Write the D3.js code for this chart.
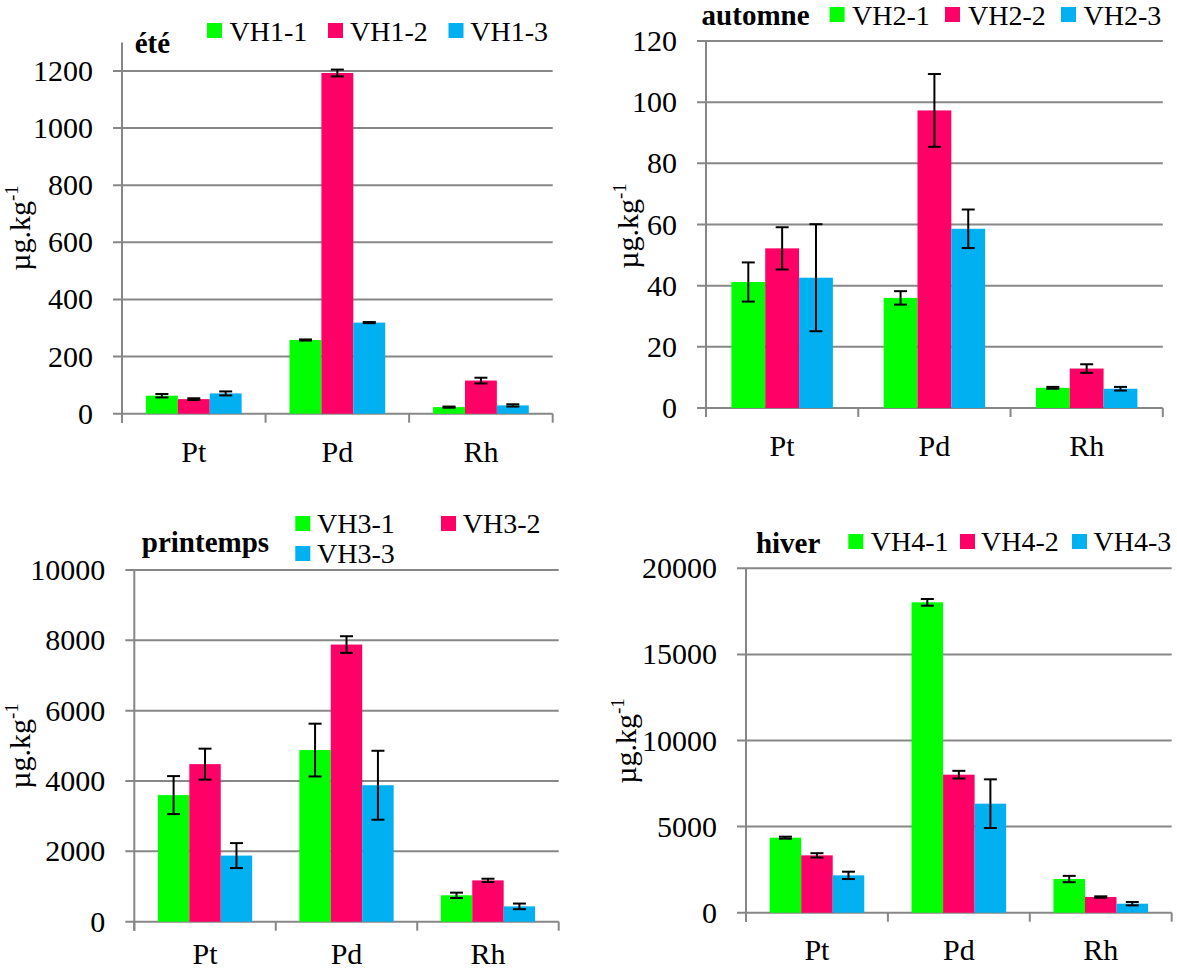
<!DOCTYPE html>
<html>
<head>
<meta charset="utf-8">
<script src="https://cdn.jsdelivr.net/npm/d3@7"></script>
<style>
  html, body { margin: 0; padding: 0; background: #fff; }
</style>
</head>
<body>
<svg id="chart" width="1177" height="972"></svg>
<script>
// ---------- data ----------
const categories = ["Pt", "Pd", "Rh"];
const seriesColors = ["#00FF00", "#FF0066", "#00B0F0"];
const yLabel = "µg.kg";

// été
const eteTitle = "été";
const eteSeries = ["VH1-1", "VH1-2", "VH1-3"];
const eteValues = [[63, 258, 23], [51, 1193, 116], [71, 319, 29]];
const eteErrors = [[6, 2, 2], [3, 12, 10], [7, 2, 4]];
const eteTicks = [0, 200, 400, 600, 800, 1000, 1200];
const eteMax = 1300;

// automne
const automneTitle = "automne";
const automneSeries = ["VH2-1", "VH2-2", "VH2-3"];
const automneValues = [[41.2, 36, 6.6], [52.2, 97.3, 12.9], [42.6, 58.6, 6.3]];
const automneErrors = [[6.4, 2.2, 0.3], [6.9, 11.9, 1.4], [17.5, 6.3, 0.6]];
const automneTicks = [0, 20, 40, 60, 80, 100, 120];
const automneMax = 120;

// printemps
const printempsTitle = "printemps";
const printempsSeries = ["VH3-1", "VH3-2", "VH3-3"];
const printempsValues = [[3600, 4880, 750], [4480, 7880, 1175], [1880, 3880, 436]];
const printempsErrors = [[540, 750, 76], [440, 237, 47], [355, 980, 80]];
const printempsTicks = [0, 2000, 4000, 6000, 8000, 10000];
const printempsMax = 10000;

// hiver
const hiverTitle = "hiver";
const hiverSeries = ["VH4-1", "VH4-2", "VH4-3"];
const hiverValues = [[4356, 18024, 1955], [3330, 8015, 910], [2168, 6331, 523]];
const hiverErrors = [[58, 194, 184], [126, 223, 40], [213, 1413, 97]];
const hiverTicks = [0, 5000, 10000, 15000, 20000];
const hiverMax = 20000;

// ---------- layout (positions / styles only) ----------
const FONT = "Liberation Serif";
const panels = [
  { title: eteTitle, series: eteSeries, values: eteValues, errors: eteErrors, ticks: eteTicks, max: eteMax,
    xL: 122, xR: 552.7, y0: 413.7, yTopTick: 71, tickOfTop: 1200,
    titlePos: [134.7, 53.3], labelX: 30, labelY: 228, catY: 461.7,
    legend: [[207, 23, 229.5, 41], [328, 23, 350, 41], [448.5, 23, 470.3, 41]] },
  { title: automneTitle, series: automneSeries, values: automneValues, errors: automneErrors, ticks: automneTicks, max: automneMax,
    xL: 706, xR: 1162.8, y0: 408, yTopTick: 41, tickOfTop: 120,
    titlePos: [701.6, 25], labelX: 638, labelY: 226, catY: 456,
    legend: [[829.6, 7, 852, 25], [945, 7, 968, 25], [1061, 7, 1083.5, 25]] },
  { title: printempsTitle, series: printempsSeries, values: printempsValues, errors: printempsErrors, ticks: printempsTicks, max: printempsMax,
    xL: 134.3, xR: 558.7, y0: 921.7, yTopTick: 570, tickOfTop: 10000,
    titlePos: [141.8, 551.7], labelX: 30, labelY: 746, catY: 964,
    legend: [[295.3, 516, 317, 532.7], [441, 516, 462.8, 532.7], [295.3, 546, 317, 562.7]] },
  { title: hiverTitle, series: hiverSeries, values: hiverValues, errors: hiverErrors, ticks: hiverTicks, max: hiverMax,
    xL: 746, xR: 1171.7, y0: 912.7, yTopTick: 568.3, tickOfTop: 20000,
    titlePos: [755.9, 552.7], labelX: 636, labelY: 741, catY: 960,
    legend: [[848.3, 534, 870.8, 551], [960, 534, 981, 551], [1072, 534, 1093.6, 551]] }
];

const GRID = "#878787";
const svg = d3.select("#chart");

panels.forEach(p => {
  const g = svg.append("g");
  const pxPerUnit = (p.y0 - p.yTopTick) / p.tickOfTop;
  const yTop = p.y0 - p.max * pxPerUnit;
  const y = d3.scaleLinear().domain([0, p.max]).range([p.y0, yTop]);

  const x0 = d3.scaleBand().domain(categories).range([p.xL, p.xR])
    .paddingInner(1 / 3).paddingOuter(1 / 6);
  const x1 = d3.scaleBand().domain(d3.range(p.series.length)).range([0, x0.bandwidth()]).padding(0);

  // gridlines + left tick marks
  g.selectAll("line.grid").data(p.ticks).join("line")
    .attr("x1", p.xL - 9).attr("x2", p.xR)
    .attr("y1", d => y(d)).attr("y2", d => y(d))
    .attr("stroke", GRID).attr("stroke-width", 2);

  // y axis line
  g.append("line").attr("x1", p.xL).attr("x2", p.xL)
    .attr("y1", yTop).attr("y2", p.y0 + 9)
    .attr("stroke", GRID).attr("stroke-width", 2);

  // category boundary ticks
  const bnd = d3.range(categories.length + 1).map(i => p.xL + i * (p.xR - p.xL) / categories.length);
  g.selectAll("line.ctick").data(bnd).join("line")
    .attr("x1", d => d).attr("x2", d => d)
    .attr("y1", p.y0).attr("y2", p.y0 + 9)
    .attr("stroke", GRID).attr("stroke-width", 2);

  // tick labels
  g.selectAll("text.ytick").data(p.ticks).join("text")
    .attr("font-family", FONT)
    .attr("x", p.xL - 29).attr("y", d => y(d) + 10)
    .attr("text-anchor", "end").attr("font-size", 30)
    .text(d => d);

  // category labels
  g.selectAll("text.cat").data(categories).join("text")
    .attr("font-family", FONT)
    .attr("x", d => x0(d) + x0.bandwidth() / 2).attr("y", p.catY)
    .attr("text-anchor", "middle").attr("font-size", 30)
    .text(d => d);

  // bars
  const flat = [];
  p.series.forEach((s, si) => categories.forEach((c, ci) => {
    flat.push({ si, c, v: p.values[si][ci], e: p.errors[si][ci] });
  }));
  g.selectAll("rect.bar").data(flat).join("rect")
    .attr("x", d => x0(d.c) + x1(d.si))
    .attr("width", x1.bandwidth())
    .attr("y", d => y(d.v))
    .attr("height", d => p.y0 - y(d.v))
    .attr("fill", d => seriesColors[d.si]);

  // error bars
  const eb = g.selectAll("g.err").data(flat).join("g");
  const cx = d => x0(d.c) + x1(d.si) + x1.bandwidth() / 2;
  eb.append("line")
    .attr("x1", cx).attr("x2", cx)
    .attr("y1", d => y(d.v - d.e)).attr("y2", d => y(d.v + d.e))
    .attr("stroke", "#000").attr("stroke-width", 2);
  [-1, 1].forEach(sgn => {
    eb.append("line")
      .attr("x1", d => cx(d) - 6.5).attr("x2", d => cx(d) + 6.5)
      .attr("y1", d => y(d.v + sgn * d.e)).attr("y2", d => y(d.v + sgn * d.e))
      .attr("stroke", "#000").attr("stroke-width", 2);
  });

  // title
  g.append("text").attr("font-family", FONT).attr("x", p.titlePos[0]).attr("y", p.titlePos[1])
    .attr("font-size", 29).attr("font-weight", "bold").text(p.title);

  // legend
  p.series.forEach((s, i) => {
    const L = p.legend[i];
    g.append("rect").attr("x", L[0]).attr("y", L[1]).attr("width", 15).attr("height", 15)
      .attr("fill", seriesColors[i]);
    g.append("text").attr("font-family", FONT).attr("x", L[2]).attr("y", L[3]).attr("font-size", 28).text(s);
  });

  // y label
  const t = g.append("text").attr("font-family", FONT)
    .attr("transform", `translate(${p.labelX},${p.labelY}) rotate(-90)`)
    .attr("text-anchor", "middle").attr("font-size", 30);
  t.append("tspan").text(yLabel);
  t.append("tspan").attr("font-size", 19).attr("dy", -12).text("-1");
});
</script>
</body>
</html>
